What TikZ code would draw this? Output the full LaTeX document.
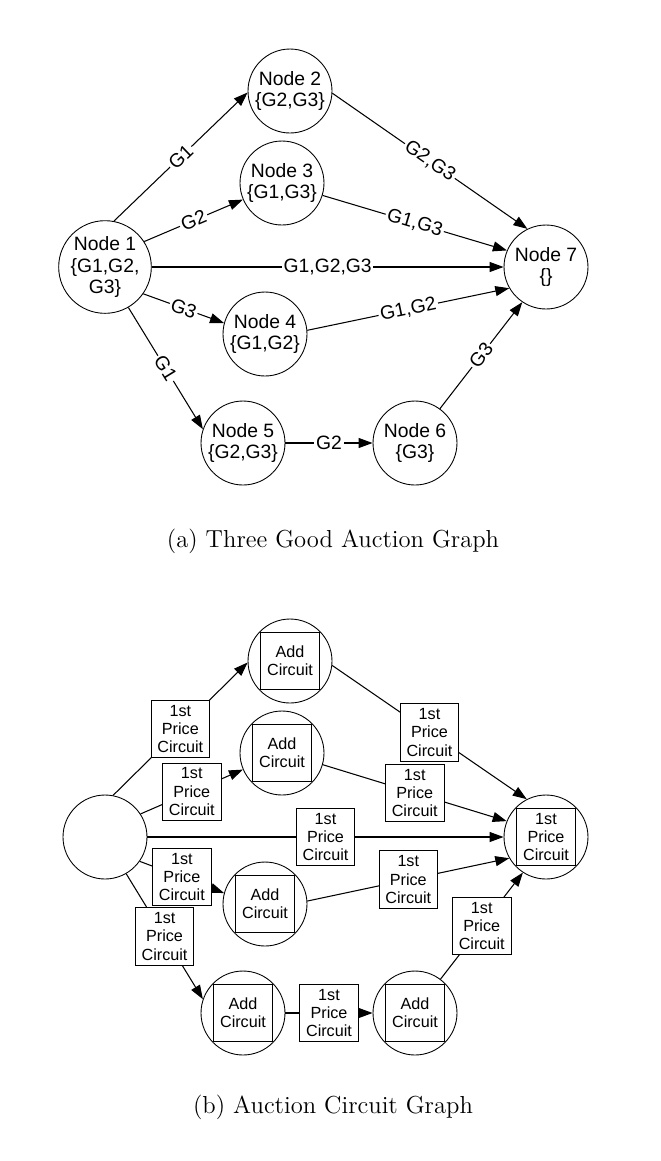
\documentclass[tikz,border=0pt]{standalone}
\usepackage{fontspec}
\newfontfamily\helv{Liberation Sans}
\usetikzlibrary{arrows.meta}

\def\unit{0.02}

\begin{document}
\begin{tikzpicture}[x=\unit cm, y=-\unit cm, line width=0.6pt,
    every node/.style={font=\helv\fontsize{11}{12.5}\selectfont},
    state/.style={circle, draw, line width=0.5pt, minimum size=1.68cm, inner sep=0pt, align=center},
    lbl/.style={fill=white, inner sep=1pt, sloped},
    cbox/.style={draw, fill=white, line width=0.5pt, minimum width=1.17cm, minimum height=1.15cm, inner sep=0pt, align=center, font=\helv\fontsize{9.2}{10.4}\selectfont},
    arr/.style={-{Triangle[length=0.28cm, width=0.2cm]}},
    captext/.style={anchor=base, font=\fontsize{14}{16}\selectfont}]
      \useasboundingbox (0,0) rectangle (661,1161);
      \node[state] (n1) at (105,267) {Node 1\\\{G1,G2,\\G3\}};
      \node[state] (n2) at (290,91) {Node 2\\\{G2,G3\}};
      \node[state] (n3) at (282,183) {Node 3\\\{G1,G3\}};
      \node[state] (n4) at (265,334) {Node 4\\\{G1,G2\}};
      \node[state] (n5) at (243,443) {Node 5\\\{G2,G3\}};
      \node[state] (n6) at (415,443) {Node 6\\\{G3\}};
      \node[state] (n7) at (546,267) {Node 7\\\{\}};
      \draw[arr] (n1.79) -- node[lbl] (l12) {G1} (n2.182);
      \draw[arr] (n1.33) -- node[lbl] (l13) {G2} (n3.203);
      \draw[arr] (n1.0) -- node[lbl] (l17) {G1,G2,G3} (n7.180);
      \draw[arr] (n1.325) -- node[lbl] (l14) {G3} (n4.165);
      \draw[arr] (n1.300) -- node[lbl] (l15) {G1} (n5.161);
      \draw[arr] (n5.0) -- node[lbl] (l56) {G2} (n6.180);
      \draw[arr] (n2.357) -- node[lbl] (l27) {G2,G3} (n7.116);
      \draw[arr] (n3.343) -- node[lbl] (l37) {G1,G3} (n7.157);
      \draw[arr] (n4.5) -- node[lbl] (l47) {G1,G2} (n7.210);
      \draw[arr] (n6.54) -- node[lbl] (l67) {G3} (n7.236);
      \node[captext] (capa) at (333,547) {(a) Three Good Auction Graph};
      \node[state] (b1) at (105,837) {};
      \node[state] (b2) at (290,661) {};
      \node[state] (b3) at (282,753) {};
      \node[state] (b4) at (265,904) {};
      \node[state] (b5) at (243,1013) {};
      \node[state] (b6) at (415,1013) {};
      \node[state] (b7) at (546,837) {};
      \node[cbox] (a2) at (b2) {Add\\Circuit};
      \node[cbox] (a3) at (b3) {Add\\Circuit};
      \node[cbox] (a4) at (b4) {Add\\Circuit};
      \node[cbox] (a5) at (b5) {Add\\Circuit};
      \node[cbox] (a6) at (b6) {Add\\Circuit};
      \node[cbox] (a7) at (b7) {1st\\Price\\Circuit};
      \draw[arr] (b1.79) -- node[cbox] (p12) {1st\\Price\\Circuit} (b2.182);
      \draw[arr] (b1.33) -- node[cbox] (p13) {1st\\Price\\Circuit} (b3.203);
      \draw[arr] (b1.0) -- node[cbox] (p17) {1st\\Price\\Circuit} (b7.180);
      \draw[arr] (b1.325) -- node[cbox] (p14) {1st\\Price\\Circuit} (b4.165);
      \draw[arr] (b1.300) -- node[cbox] (p15) {1st\\Price\\Circuit} (b5.161);
      \draw[arr] (b5.0) -- node[cbox] (p56) {1st\\Price\\Circuit} (b6.180);
      \draw[arr] (b2.354) -- node[cbox] (p27) {1st\\Price\\Circuit} (b7.117);
      \draw[arr] (b3.344) -- node[cbox] (p37) {1st\\Price\\Circuit} (b7.158);
      \draw[arr] (b4.4) -- node[cbox] (p47) {1st\\Price\\Circuit} (b7.210);
      \draw[arr] (b6.53) -- node[cbox] (p67) {1st\\Price\\Circuit} (b7.237);
      \node[captext] (capb) at (333,1113) {(b) Auction Circuit Graph};
\end{tikzpicture}
\end{document}
